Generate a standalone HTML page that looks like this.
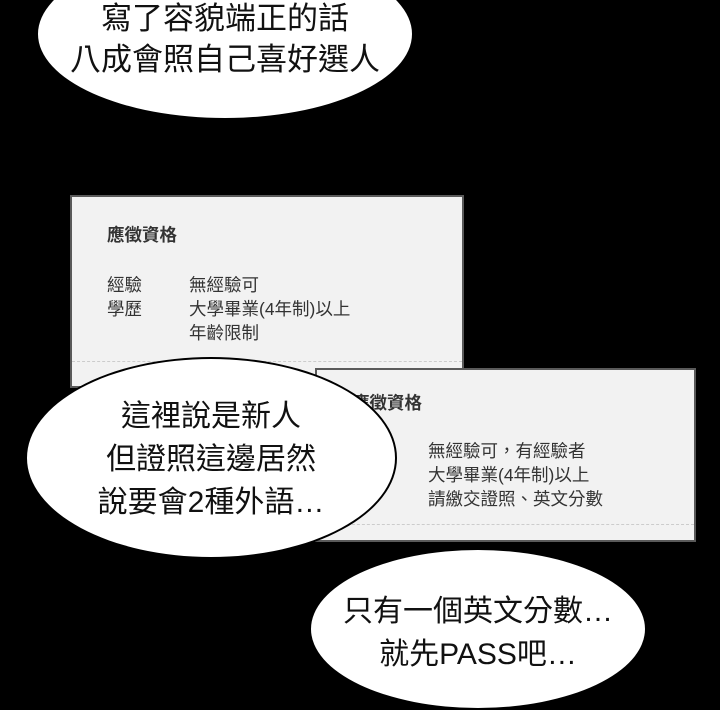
<!DOCTYPE html>
<html><head><meta charset="utf-8"><style>
body{margin:0;width:720px;height:700px;background:#000;overflow:hidden;position:relative;font-family:"Liberation Sans","Noto Sans CJK TC",sans-serif}
.card{position:absolute;background:#f2f2f2;border:2px solid #5a5a5a;box-sizing:border-box;color:#333}
.t{position:absolute;font-size:17.5px;line-height:24px;white-space:nowrap}
.ell{position:absolute;background:#fff;border:2px solid #000;border-radius:50%;box-sizing:border-box}
.bt{position:absolute;font-size:30px;line-height:41px;color:#111;text-align:center;white-space:nowrap}
.dash{position:absolute;border-top:1px dashed #ccc}
</style></head><body>
<div class="ell" style="left:36px;top:-52px;width:378px;height:172px"></div>
<div class="bt" style="left:36px;top:-2px;width:378px;font-size:31px">寫了容貌端正的話<br>八成會照自己喜好選人</div>

<div class="card" style="left:70px;top:195px;width:394px;height:193px">
<div class="t" style="left:35px;top:26px;font-weight:bold">應徵資格</div>
<div class="t" style="left:35px;top:76px">經驗<br>學歷</div>
<div class="t" style="left:117px;top:76px">無經驗可<br>大學畢業(4年制)以上<br>年齡限制</div>
<div class="dash" style="left:0;right:0;top:164px"></div>
</div>

<div class="card" style="left:315px;top:368px;width:381px;height:174px">
<div class="t" style="left:35px;top:21px;font-weight:bold">應徵資格</div>
<div class="t" style="left:111px;top:69px">無經驗可，有經驗者<br>大學畢業(4年制)以上<br>請繳交證照、英文分數</div>
<div class="dash" style="left:0;right:0;top:154px"></div>
</div>

<div class="ell" style="left:25px;top:357px;width:372px;height:202px"></div>
<div class="bt" style="left:25px;top:395px;width:372px;line-height:43px">這裡說是新人<br>但證照這邊居然<br>說要會2種外語…</div>

<div class="ell" style="left:309px;top:548px;width:338px;height:162px"></div>
<div class="bt" style="left:309px;top:590px;width:338px;line-height:43px">只有一個英文分數…<br>就先PASS吧…</div>
</body></html>
